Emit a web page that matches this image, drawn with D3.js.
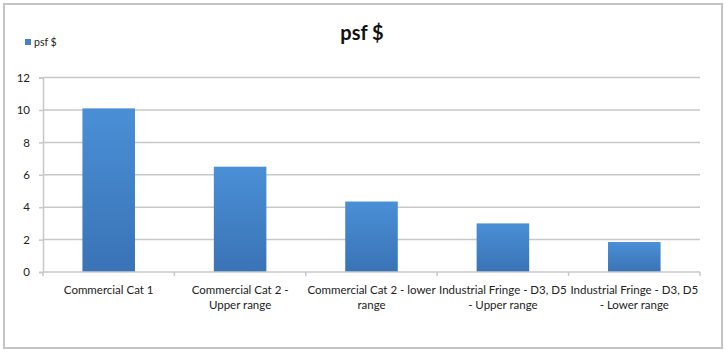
<!DOCTYPE html>
<html><head><meta charset="utf-8">
<script src="https://cdn.jsdelivr.net/npm/d3@7"></script>
<style>body{margin:0;background:#fff;}svg{display:block;}</style>
</head><body>
<svg id="c" width="725" height="355"></svg>
<script>
const categories = [
  ["Commercial Cat 1"],
  ["Commercial Cat 2 -", "Upper range"],
  ["Commercial Cat 2 - lower", "range"],
  ["Industrial Fringe - D3, D5", "- Upper range"],
  ["Industrial Fringe - D3, D5", "- Lower range"]
];
const values = [10.1, 6.5, 4.35, 3.0, 1.85];
const yTicks = [0, 2, 4, 6, 8, 10, 12];
const seriesName = "psf $";
const title = "psf $";

(function(){
const svg = d3.select("#c");
const font = "Lato, 'Open Sans', sans-serif";
svg.append("rect").attr("x",4).attr("y",4).attr("width",718).attr("height",344)
  .attr("fill","#fff").attr("stroke","#c4c4c4").attr("stroke-width",2);

const defs = svg.append("defs");
const g = defs.append("linearGradient").attr("id","bg").attr("x1",0).attr("y1",0).attr("x2",0).attr("y2",1);
g.append("stop").attr("offset","0%").attr("stop-color","#4a8fd6");
g.append("stop").attr("offset","100%").attr("stop-color","#3a73b6");

const pLeft = 43, pRight = 700, pTop = 77.6, pBottom = 272;
const x = d3.scaleBand().domain(d3.range(categories.length)).range([pLeft, pRight]).paddingInner(0.6).paddingOuter(0.3);
const xb = d3.scaleBand().domain(d3.range(categories.length)).range([pLeft, pRight]);
const y = d3.scaleLinear().domain([0, 12]).range([pBottom, pTop]);

svg.append("g").selectAll("line").data(yTicks.filter(d=>d>0)).join("line")
  .attr("x1", pLeft).attr("x2", pRight).attr("y1", d=>y(d)).attr("y2", d=>y(d))
  .attr("stroke","#c8c8c8").attr("stroke-width",1.5);

const ya = svg.append("g").attr("transform",`translate(${pLeft},0)`)
  .call(d3.axisLeft(y).tickValues(yTicks).tickSize(4).tickPadding(9));
ya.select(".domain").attr("stroke","#c8c8c8").attr("stroke-width",1.5);
ya.selectAll(".tick line").attr("stroke","#c8c8c8").attr("stroke-width",1.5);
ya.selectAll(".tick text").attr("font-family",font).attr("font-size",11.5).attr("fill","#222");

svg.append("g").selectAll("rect").data(values).join("rect")
  .attr("x",(d,i)=>x(i)).attr("width",x.bandwidth())
  .attr("y",d=>y(d)).attr("height",d=>y(0)-y(d))
  .attr("fill","url(#bg)");

const xa = svg.append("g").attr("transform",`translate(0,${pBottom})`);
xa.append("line").attr("x1",pLeft).attr("x2",pRight).attr("stroke","#c8c8c8").attr("stroke-width",1.5);
const tickPos = xb.domain().map(i=>xb(i)).concat([pRight]);
xa.selectAll("line.t").data(tickPos).join("line").attr("class","t")
  .attr("x1",d=>d).attr("x2",d=>d).attr("y1",0).attr("y2",4)
  .attr("stroke","#c8c8c8").attr("stroke-width",1.5);
categories.forEach((lines,i)=>{
  const t = xa.append("text").attr("text-anchor","middle").attr("font-family",font)
    .attr("font-size",11.5).attr("fill","#222");
  lines.forEach((ln,k)=>{
    t.append("tspan").attr("x", xb(i)+xb.bandwidth()/2).attr("y", 22 + k*15).text(ln);
  });
});

svg.append("text").attr("x",362).attr("y",40).attr("text-anchor","middle")
  .attr("font-family",font).attr("font-weight","bold").attr("font-size",20).attr("fill","#111").text(title);

svg.append("rect").attr("x",25).attr("y",39).attr("width",6).attr("height",6).attr("fill","#4581c8");
svg.append("text").attr("x",34).attr("y",46).attr("font-family",font).attr("font-size",10.5).attr("fill","#222").text(seriesName);
})();
</script>
</body></html>
